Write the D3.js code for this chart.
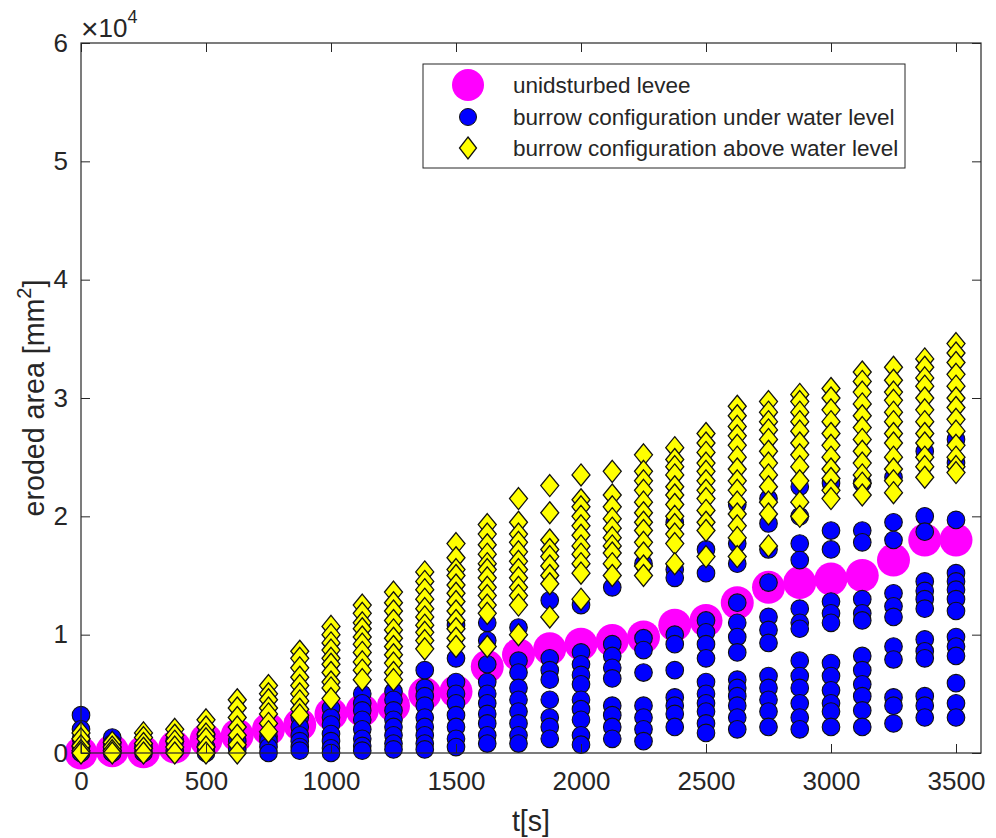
<!DOCTYPE html>
<html>
<head>
<meta charset="utf-8">
<script src="https://cdn.jsdelivr.net/npm/d3@7"></script>
<style>
  html, body { margin: 0; padding: 0; background: #fff; }
  svg { display: block; }
  text { font-family: "Liberation Sans", Arial, Helvetica, sans-serif; fill: #262626; }
</style>
</head>
<body>
<svg id="chart" width="996" height="838"></svg>
<script>
// Time steps of the simulation [s]
const times = [0,125,250,375,500,625,750,875,1000,1125,1250,1375,1500,1625,1750,1875,
  2000,2125,2250,2375,2500,2625,2750,2875,3000,3125,3250,3375,3500];

// Eroded area, in units of 10^4 mm^2
const levee = [0,0.02,0.01,0.05,0.11,0.15,0.2,0.24,0.33,0.36,0.4,0.5,0.52,0.73,0.83,0.88,
  0.92,0.95,0.98,1.08,1.12,1.27,1.40,1.44,1.47,1.50,1.63,1.80,1.80];

const underWater = [
  [0.32,0.2,0.12,0.05,0.0],
  [0.13,0.08,0.03,0.0],
  [0.05,0.0],
  [0.1,0.02],
  [0.15,0.05,0.0],
  [0.1,0.03],
  [0.14,0.1,0.05,0.0],
  [0.3,0.22,0.15,0.1,0.05,0.02],
  [0.38,0.3,0.24,0.16,0.1,0.04,0.0],
  [0.5,0.42,0.36,0.28,0.2,0.12,0.06,0.02],
  [0.52,0.45,0.36,0.28,0.22,0.15,0.08,0.03],
  [0.7,0.55,0.48,0.4,0.3,0.22,0.15,0.08,0.03],
  [1.08,0.8,0.6,0.5,0.42,0.32,0.22,0.12,0.05],
  [1.1,0.95,0.75,0.6,0.5,0.42,0.33,0.25,0.15,0.08],
  [1.06,0.78,0.68,0.55,0.45,0.35,0.25,0.15,0.08],
  [1.29,0.8,0.7,0.62,0.45,0.3,0.22,0.12],
  [1.25,0.85,0.75,0.66,0.58,0.45,0.37,0.28,0.15,0.07],
  [1.4,0.92,0.82,0.72,0.63,0.4,0.32,0.22,0.12],
  [1.6,0.97,0.87,0.68,0.4,0.3,0.2,0.1],
  [1.95,1.55,1.48,1.0,0.92,0.7,0.47,0.4,0.33,0.22],
  [1.72,1.52,1.12,1.02,0.92,0.8,0.6,0.5,0.42,0.35,0.25,0.17],
  [2.1,1.77,1.6,1.27,1.1,0.98,0.85,0.62,0.55,0.48,0.4,0.3,0.2],
  [2.15,1.94,1.72,1.44,1.15,1.04,0.93,0.65,0.55,0.45,0.35,0.22],
  [2.25,2.0,1.77,1.63,1.22,1.1,1.05,0.78,0.65,0.55,0.42,0.3,0.2],
  [2.28,1.88,1.72,1.28,1.18,1.1,0.76,0.65,0.53,0.42,0.35,0.22],
  [2.28,1.88,1.78,1.3,1.18,1.12,0.82,0.7,0.58,0.48,0.36,0.22],
  [2.33,1.95,1.8,1.35,1.24,1.15,0.9,0.79,0.47,0.4,0.25],
  [2.55,2.0,1.87,1.45,1.37,1.3,1.22,0.96,0.86,0.8,0.48,0.4,0.3],
  [2.65,2.45,1.97,1.52,1.45,1.38,1.3,1.2,0.98,0.9,0.82,0.59,0.42,0.3]
];

const aboveWater = [
  [0.17,0.12,0.06,0.02,0.0],
  [0.09,0.05,0.02,0.0],
  [0.17,0.13,0.08,0.04,0.0],
  [0.2,0.15,0.1,0.05,0.0],
  [0.28,0.22,0.16,0.12,0.05,0.0],
  [0.45,0.38,0.3,0.22,0.15,0.07,0.0],
  [0.57,0.5,0.45,0.38,0.33,0.25,0.18],
  [0.86,0.8,0.72,0.64,0.57,0.5,0.44,0.37,0.32],
  [1.07,1.0,0.93,0.87,0.8,0.75,0.68,0.6,0.55,0.46],
  [1.25,1.18,1.1,1.05,0.98,0.92,0.85,0.77,0.7,0.62],
  [1.36,1.27,1.2,1.12,1.04,0.97,0.9,0.83,0.76,0.68,0.62],
  [1.53,1.45,1.38,1.3,1.22,1.15,1.08,1.02,0.95,0.88],
  [1.77,1.65,1.55,1.5,1.42,1.35,1.28,1.2,1.12,1.05,0.97,0.9],
  [1.93,1.85,1.76,1.68,1.6,1.55,1.48,1.4,1.33,1.25,1.18,0.9],
  [2.15,1.95,1.85,1.78,1.7,1.62,1.55,1.48,1.4,1.33,1.25,1.0],
  [2.26,2.03,1.8,1.72,1.66,1.58,1.5,1.43,1.15],
  [2.35,2.14,2.08,2.0,1.92,1.84,1.75,1.68,1.6,1.52,1.3],
  [2.38,2.18,2.08,1.98,1.9,1.82,1.75,1.69,1.6,1.5],
  [2.52,2.38,2.3,2.22,2.12,2.03,1.95,1.88,1.78,1.69,1.58,1.5],
  [2.58,2.48,2.42,2.35,2.25,2.18,2.1,2.0,1.93,1.85,1.77,1.6],
  [2.7,2.62,2.54,2.45,2.38,2.3,2.22,2.15,2.05,1.95,1.88,1.66],
  [2.93,2.85,2.76,2.68,2.6,2.5,2.4,2.3,2.22,2.12,2.02,1.92,1.82,1.66],
  [2.97,2.88,2.8,2.73,2.65,2.55,2.45,2.35,2.25,2.12,2.02,1.75],
  [3.03,2.97,2.88,2.8,2.72,2.62,2.52,2.42,2.3,2.12,2.0],
  [3.08,3.0,2.9,2.8,2.7,2.6,2.5,2.4,2.32,2.22,2.15],
  [3.22,3.14,3.05,2.95,2.85,2.75,2.65,2.55,2.45,2.35,2.28,2.18],
  [3.26,3.15,3.05,2.98,2.88,2.8,2.7,2.62,2.5,2.4,2.3,2.2],
  [3.33,3.26,3.17,3.1,3.0,2.9,2.8,2.7,2.62,2.5,2.42,2.33],
  [3.46,3.38,3.3,3.2,3.1,3.0,2.92,2.82,2.72,2.6,2.5,2.42,2.37]
];

const xTicks = [0,500,1000,1500,2000,2500,3000,3500];
const yTicks = [0,1,2,3,4,5,6];
const seriesNames = ["unidsturbed levee",
  "burrow configuration under water level",
  "burrow configuration above water level"];

const svg = d3.select("#chart");
const axisColor = "#262626";

const x = d3.scaleLinear().domain([0, 3600]).range([81, 981]);
const y = d3.scaleLinear().domain([0, 6]).range([753, 43]);

// diamond marker path centred on (0,0)
function diamond(w, h) {
  return `M0,${-h/2}L${w/2},0L0,${h/2}L${-w/2},0Z`;
}

// Plot background
svg.append("rect")
  .attr("x", x(0)).attr("y", y(6))
  .attr("width", x(3600) - x(0)).attr("height", y(0) - y(6))
  .attr("fill", "#fff");

// Series marks
const pointsBelow = [], pointsAbove = [];
times.forEach((t, i) => {
  underWater[i].forEach(v => pointsBelow.push({t, v}));
  aboveWater[i].forEach(v => pointsAbove.push({t, v}));
});

svg.append("g").selectAll("circle").data(times).join("circle")
  .attr("cx", d => x(d)).attr("cy", (d, i) => y(levee[i]))
  .attr("r", 16.5).attr("fill", "#ff00ff");

svg.append("g").selectAll("circle").data(pointsBelow).join("circle")
  .attr("cx", d => x(d.t)).attr("cy", d => y(d.v))
  .attr("r", 8.8).attr("fill", "#0000ff")
  .attr("stroke", "#111").attr("stroke-width", 1.1);

svg.append("g").selectAll("path").data(pointsAbove).join("path")
  .attr("transform", d => `translate(${x(d.t)},${y(d.v)})`)
  .attr("d", diamond(18, 22))
  .attr("fill", "#ffff00")
  .attr("stroke", "#111").attr("stroke-width", 1.3);

// Axes with inward ticks on all four sides
const tickLen = 9;
const fmt = d3.format("d");
const gx = svg.append("g").attr("transform", `translate(0,${y(0)})`)
  .call(d3.axisBottom(x).tickValues(xTicks).tickSize(-tickLen).tickPadding(19).tickFormat(fmt));
const gxt = svg.append("g").attr("transform", `translate(0,${y(6)})`)
  .call(d3.axisTop(x).tickValues(xTicks).tickSize(-tickLen).tickFormat(""));
const gy = svg.append("g").attr("transform", `translate(${x(0)},0)`)
  .call(d3.axisLeft(y).tickValues(yTicks).tickSize(-tickLen).tickPadding(13).tickFormat(fmt));
const gyr = svg.append("g").attr("transform", `translate(${x(3600)},0)`)
  .call(d3.axisRight(y).tickValues(yTicks).tickSize(-tickLen).tickFormat(""));

[gx, gxt, gy, gyr].forEach(g => {
  g.select(".domain").remove();
  g.selectAll(".tick line").attr("stroke", axisColor).attr("stroke-width", 1);
  g.selectAll(".tick text").attr("font-size", 26).attr("fill", axisColor)
    .attr("font-family", "'Liberation Sans', Arial, sans-serif");
});

svg.append("rect")
  .attr("x", x(0)).attr("y", y(6))
  .attr("width", x(3600) - x(0)).attr("height", y(0) - y(6))
  .attr("fill", "none").attr("stroke", axisColor).attr("stroke-width", 1.2);

// Exponent multiplier
const mult = svg.append("text").attr("x", 81).attr("y", 37).attr("font-size", 26);
mult.append("tspan").attr("font-size", 30).attr("dy", 2).text("×");
mult.append("tspan").attr("dy", -2).text("10");
mult.append("tspan").attr("font-size", 18).attr("dy", -14).text("4");

// Axis labels
svg.append("text").attr("x", x(1800)).attr("y", 831)
  .attr("text-anchor", "middle").attr("font-size", 28.6).text("t[s]");

const yl = svg.append("text")
  .attr("transform", `translate(44,${(y(0) + y(6)) / 2}) rotate(-90)`)
  .attr("text-anchor", "middle").attr("font-size", 28.6);
yl.append("tspan").text("eroded area [mm");
yl.append("tspan").attr("font-size", 20).attr("dy", -13).text("2");
yl.append("tspan").attr("dy", 13).text("]");

// Legend
const lg = svg.append("g");
lg.append("rect").attr("x", 423).attr("y", 64).attr("width", 482).attr("height", 104)
  .attr("fill", "#fff").attr("stroke", axisColor).attr("stroke-width", 1);
const rowY = [85, 117, 148];
lg.append("circle").attr("cx", 468).attr("cy", rowY[0]).attr("r", 16).attr("fill", "#ff00ff");
lg.append("circle").attr("cx", 468).attr("cy", rowY[1]).attr("r", 8.5)
  .attr("fill", "#0000ff").attr("stroke", "#111");
lg.append("path").attr("transform", `translate(468,${rowY[2]})`).attr("d", diamond(17, 22))
  .attr("fill", "#ffff00").attr("stroke", "#111").attr("stroke-width", 1.3);
lg.selectAll("text.lab").data(seriesNames).join("text").attr("class", "lab")
  .attr("x", 513).attr("y", (d, i) => rowY[i]).attr("dy", "0.35em")
  .attr("font-size", 22.5).text(d => d);
</script>
</body>
</html>
